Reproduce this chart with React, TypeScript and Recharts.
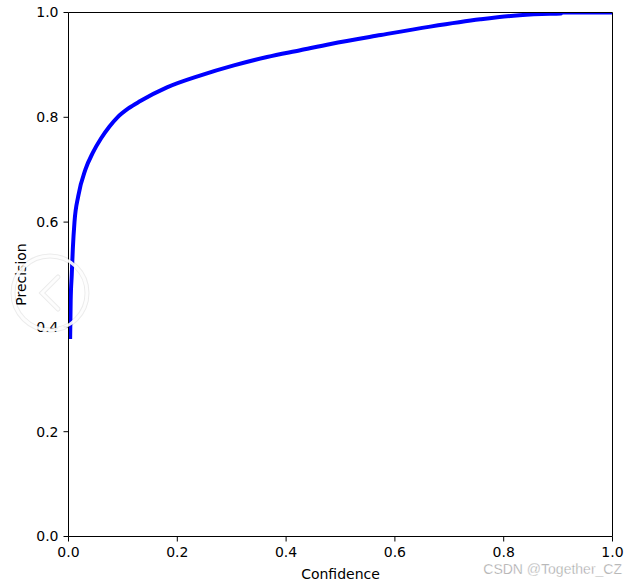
import React from 'react';
import { LineChart, Line, XAxis, YAxis, Label, ReferenceLine } from 'recharts';

// confidence threshold vs precision
const confidence = [
  0.003, 0.004, 0.006, 0.008, 0.011, 0.018, 0.031, 0.045, 0.06, 0.075, 0.09,
  0.11, 0.132, 0.181, 0.243, 0.304, 0.365, 0.426, 0.482, 0.574, 0.665, 0.757,
  0.818, 0.87, 0.905, 0.907, 1.0,
];
const precision = [
  0.377, 0.45, 0.5, 0.55, 0.6, 0.65, 0.7, 0.733, 0.76, 0.782, 0.8,
  0.817, 0.831, 0.857, 0.88, 0.899, 0.915, 0.928, 0.94, 0.957, 0.973, 0.987,
  0.994, 0.997, 0.998, 1.0, 1.0,
];
const ticks = [0, 0.2, 0.4, 0.6, 0.8, 1.0];

const data = confidence.map((c, i) => ({ conf: c, prec: precision[i] }));

const FONT = '"DejaVu Sans", sans-serif';
const tickStyle = { fill: '#000', fontSize: 14, fontFamily: FONT };
const fmt = (v: number) => v.toFixed(1);

const YTitle = ({ viewBox }: any) => {
  const x = viewBox.x + 12;
  const y = viewBox.y + viewBox.height / 2;
  return (
    <text x={x} y={y} transform={`rotate(-90 ${x} ${y})`} textAnchor="middle" dominantBaseline="central"
      fontSize={14} fontFamily={FONT} fill="#000">Precision</text>
  );
};

const XTitle = ({ viewBox }: any) => (
  <text x={viewBox.x + viewBox.width / 2} y={viewBox.y + 42} textAnchor="middle"
    fontSize={14} fontFamily={FONT} fill="#000">Confidence</text>
);

export default function App() {
  return (
    <div style={{ position: 'absolute', left: 0, top: 0, width: 638, height: 585, background: '#fff' }}>
      <LineChart width={638} height={585} data={data}
        margin={{ top: 12.5, right: 25.5, left: 8.5, bottom: 18.5 }}>
        <XAxis dataKey="conf" type="number" domain={[0, 1]} ticks={ticks} tickFormatter={fmt}
          allowDataOverflow height={30} tick={tickStyle} tickSize={5} tickMargin={6}
          axisLine={{ stroke: '#000' }} tickLine={{ stroke: '#000' }}>
          <Label content={<XTitle />} />
        </XAxis>
        <YAxis type="number" domain={[0, 1]} ticks={ticks} tickFormatter={fmt}
          allowDataOverflow width={60} tick={tickStyle} tickSize={5} tickMargin={5}
          axisLine={{ stroke: '#000' }} tickLine={{ stroke: '#000' }}>
          <Label content={<YTitle />} />
        </YAxis>
        <Line dataKey="prec" type="monotone" stroke="#0000ff" strokeWidth={4}
          dot={false} activeDot={false} isAnimationActive={false} />
        <ReferenceLine y={1} stroke="#000" strokeWidth={1} ifOverflow="visible" />
        <ReferenceLine x={1} stroke="#000" strokeWidth={1} ifOverflow="visible" />
      </LineChart>
      <svg width={638} height={585} style={{ position: 'absolute', left: 0, top: 0, pointerEvents: 'none' }}>
        <circle cx={50} cy={293} r={37} fill="none" stroke="rgba(0,0,0,0.08)" strokeWidth={5} />
        <circle cx={50} cy={293} r={37} fill="none" stroke="rgba(255,255,255,0.9)" strokeWidth={3} />
        <polyline points="58,277 42,293 58,309" fill="none" stroke="rgba(0,0,0,0.08)" strokeWidth={5} strokeLinecap="round" />
        <polyline points="58,277 42,293 58,309" fill="none" stroke="rgba(255,255,255,0.9)" strokeWidth={3} strokeLinecap="round" />
        <text x={622} y={574} textAnchor="end" fontSize={14} fontFamily='"Liberation Sans", sans-serif'
          fill="#999" stroke="#fff" strokeWidth={0.4}>CSDN @Together_CZ</text>
      </svg>
    </div>
  );
}
